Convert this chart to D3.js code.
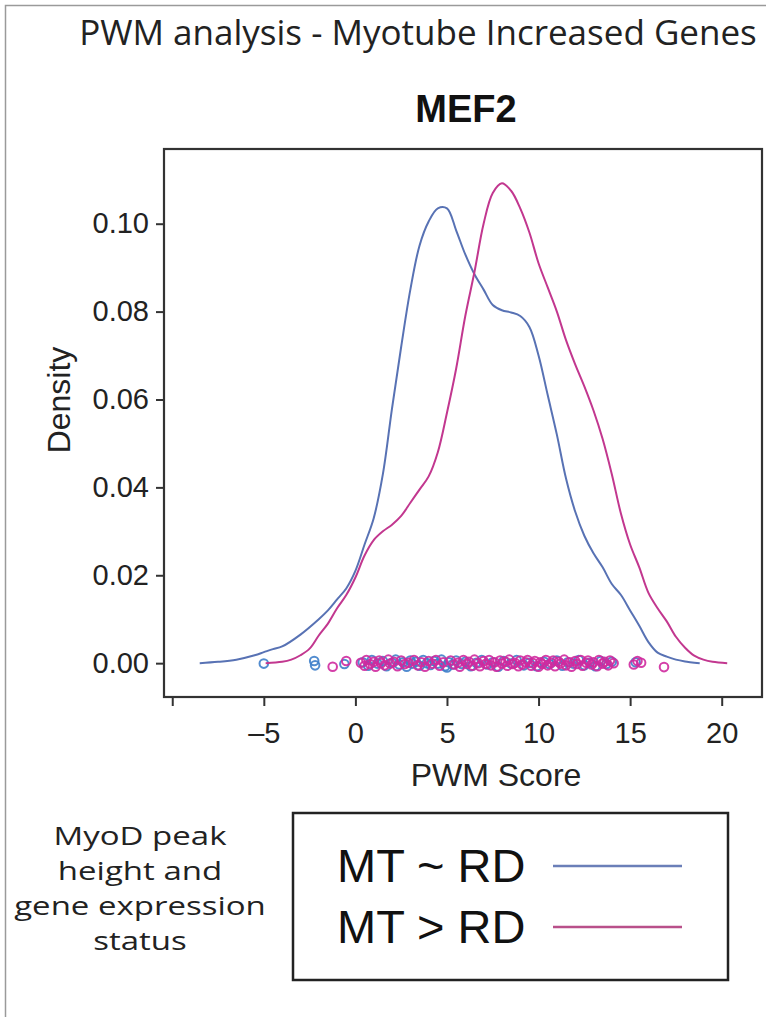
<!DOCTYPE html>
<html>
<head>
<meta charset="utf-8">
<script src="https://cdn.jsdelivr.net/npm/d3@7"></script>
<style>
  body { margin: 0; background: #fff; }
  svg { display: block; }
</style>
</head>
<body>
<svg id="chart" width="766" height="1017"></svg>
<script>
// density curves: [PWM score, density]
const mtSimilar = [
  [-8.5, 0], [-7.5, 0.0003], [-6.5, 0.0008], [-5.5, 0.0018], [-5.0, 0.0025], [-4.5, 0.0032],
  [-4.0, 0.0038], [-3.0, 0.0065], [-2.0, 0.010], [-1.5, 0.012], [-1.0, 0.0145], [-0.5, 0.017],
  [0.0, 0.021], [0.5, 0.027], [1.0, 0.033], [1.5, 0.043], [2.0, 0.058], [2.5, 0.072],
  [3.0, 0.085], [3.5, 0.095], [4.0, 0.1005], [4.5, 0.1035], [5.0, 0.1035], [5.5, 0.0985],
  [6.0, 0.093], [6.5, 0.0885], [7.0, 0.085], [7.5, 0.0815], [8.0, 0.0803], [8.5, 0.0798],
  [9.0, 0.079], [9.5, 0.0765], [10.0, 0.070], [10.5, 0.061], [11.0, 0.052], [11.5, 0.042],
  [12.0, 0.0345], [12.5, 0.029], [13.0, 0.025], [13.5, 0.0218], [14.0, 0.018], [14.5, 0.0155],
  [15.0, 0.012], [15.5, 0.0085], [16.0, 0.0048], [16.5, 0.0024], [17.0, 0.0015], [17.5, 0.0008],
  [18.0, 0.0004], [18.8, 0]
];
const mtGreater = [
  [-4.9, 0], [-4.0, 0.0003], [-3.5, 0.0008], [-3.0, 0.0018], [-2.5, 0.0033], [-2.0, 0.0063],
  [-1.5, 0.009], [-1.0, 0.0125], [-0.5, 0.0155], [0.0, 0.0195], [0.5, 0.0245], [1.0, 0.028],
  [1.5, 0.030], [2.0, 0.0315], [2.5, 0.0335], [3.0, 0.0365], [3.5, 0.0395], [4.0, 0.0425],
  [4.5, 0.048], [5.0, 0.057], [5.5, 0.067], [6.0, 0.079], [6.5, 0.089], [7.0, 0.100],
  [7.5, 0.107], [8.0, 0.1092], [8.5, 0.1075], [9.0, 0.1035], [9.5, 0.098], [10.0, 0.091],
  [10.5, 0.0855], [11.0, 0.080], [11.5, 0.0735], [12.0, 0.068], [12.5, 0.063], [13.0, 0.0575],
  [13.5, 0.051], [14.0, 0.043], [14.5, 0.034], [15.0, 0.027], [15.5, 0.0218], [16.0, 0.016],
  [16.5, 0.0125], [17.0, 0.0095], [17.5, 0.006], [18.0, 0.0035], [18.5, 0.0017], [19.0, 0.0008],
  [19.5, 0.0003], [20.3, 0]
];

// rug points along the baseline: [PWM score, small vertical jitter]
const rugSimilar = [
  [-5.0, -0.0001], [-2.25, 0.0005], [-2.2, -0.0005], [-0.6, -0.0002],
  [0.4, 0.0002], [0.7, -0.0006], [0.9, 0.0007], [1.2, -0.0001], [1.5, 0.0005], [1.7, -0.0007],
  [2.0, 0.0001], [2.2, 0.0008], [2.4, -0.0003], [2.6, 0.0002], [2.8, -0.0008], [3.0, 0.0006],
  [3.1, -0.0001], [3.3, 0.0003], [3.5, -0.0006], [3.7, 0.0007], [3.9, 0.0000], [4.1, -0.0004],
  [4.3, 0.0005], [4.5, -0.0001], [4.7, 0.0008], [4.9, -0.0007], [5.0, -0.0010], [5.1, 0.0002],
  [5.3, -0.0003], [5.5, 0.0006], [5.8, -0.0002], [6.0, 0.0003], [6.3, -0.0007], [6.6, 0.0001],
  [6.9, 0.0007], [7.2, -0.0003], [7.5, 0.0002], [7.8, -0.0008], [8.1, 0.0005], [8.5, -0.0001],
  [8.8, 0.0007], [9.2, -0.0005], [9.5, 0.0001], [9.9, -0.0007], [10.3, 0.0003], [10.6, -0.0002],
  [11.0, 0.0006], [11.3, -0.0006], [11.6, 0.0002], [11.9, -0.0001], [12.2, 0.0007], [12.5, -0.0005],
  [12.8, 0.0001], [13.1, -0.0007], [13.4, 0.0005], [13.7, -0.0002], [14.0, 0.0003], [15.3, 0.0002]
];
const rugGreater = [
  [-1.24, -0.0008], [-0.5, 0.0005],
  [0.3, 0.0001], [0.5, -0.0006], [0.6, 0.0007], [0.8, -0.0002], [1.0, 0.0003], [1.1, -0.0008],
  [1.3, 0.0006], [1.4, 0.0000], [1.6, -0.0005], [1.8, 0.0008], [1.9, -0.0001], [2.1, 0.0003],
  [2.3, -0.0007], [2.5, 0.0006], [2.7, -0.0002], [2.9, 0.0001], [3.2, 0.0007], [3.4, -0.0005],
  [3.6, 0.0002], [3.8, -0.0008], [4.0, 0.0005], [4.2, -0.0001], [4.4, 0.0007], [4.6, -0.0006],
  [4.8, 0.0002], [5.2, 0.0006], [5.4, -0.0003], [5.6, 0.0001], [5.7, -0.0008], [5.9, 0.0007],
  [6.1, -0.0002], [6.2, 0.0003], [6.4, -0.0006], [6.5, 0.0008], [6.7, 0.0000], [6.8, -0.0007],
  [7.0, 0.0005], [7.1, -0.0002], [7.3, 0.0007], [7.4, -0.0005], [7.6, 0.0002], [7.7, -0.0008],
  [7.9, 0.0006], [8.0, -0.0001], [8.2, 0.0003], [8.3, -0.0006], [8.4, 0.0008], [8.6, -0.0002],
  [8.7, 0.0001], [8.9, -0.0007], [9.0, 0.0006], [9.1, -0.0003], [9.3, 0.0002], [9.4, 0.0007],
  [9.6, -0.0006], [9.7, 0.0000], [9.8, 0.0005], [10.0, -0.0008], [10.1, 0.0002], [10.2, -0.0002],
  [10.4, 0.0007], [10.5, -0.0005], [10.7, 0.0001], [10.8, 0.0006], [10.9, -0.0007], [11.1, 0.0003],
  [11.2, -0.0001], [11.4, 0.0008], [11.5, -0.0005], [11.7, 0.0002], [11.8, -0.0008], [12.0, 0.0005],
  [12.1, -0.0002], [12.3, 0.0007], [12.4, -0.0006], [12.6, 0.0001], [12.7, 0.0006], [12.9, -0.0003],
  [13.0, 0.0002], [13.2, -0.0007], [13.3, 0.0007], [13.5, -0.0001], [13.6, 0.0003], [13.8, -0.0005],
  [13.9, 0.0006], [14.1, 0.0000], [15.2, -0.0003], [15.4, 0.0005], [15.6, 0.0001], [16.85, -0.0009]
];

const xTicks = [-10, -5, 0, 5, 10, 15, 20];
const yTicks = [0, 0.02, 0.04, 0.06, 0.08, 0.10];
const legendLabels = ['MT ~ RD', 'MT > RD'];
const legendTitle = ['MyoD peak', 'height and', 'gene expression', 'status'];

const svg = d3.select('#chart');
const box = { left: 164, right: 762, top: 149, bottom: 697 };
const helv = '"Liberation Sans", Arial, sans-serif';

// outer frame of the figure
svg.append('path').attr('d', 'M5.5,1017 V5.5 H766').attr('fill', 'none').attr('stroke', '#9a9a9a').attr('stroke-width', 1.5);

const x = d3.scaleLinear().domain([-10.45, 22.2]).range([box.left, box.right]);
const y = d3.scaleLinear().domain([-0.0077, 0.117]).range([box.bottom, box.top]);

svg.append('text')
  .attr('x', 418).attr('y', 45)
  .attr('text-anchor', 'middle')
  .style('font-family', '"Open Sans", sans-serif')
  .style('font-size', '35px')
  .attr('fill', '#222')
  .text('PWM analysis - Myotube Increased Genes');

svg.append('text')
  .attr('x', 466).attr('y', 122)
  .attr('text-anchor', 'middle')
  .style('font-family', helv)
  .style('font-size', '38px')
  .style('font-weight', 'bold')
  .attr('fill', '#111')
  .text('MEF2');

// axes
const xAxis = svg.append('g')
  .attr('transform', `translate(0, ${box.bottom})`)
  .call(d3.axisBottom(x).tickValues(xTicks).tickSizeOuter(0).tickSize(9).tickPadding(16)
    .tickFormat(d => d === -10 ? '' : (d < 0 ? '\u2013' + Math.abs(d) : d)));
const yAxis = svg.append('g')
  .attr('transform', `translate(${box.left}, 0)`)
  .call(d3.axisLeft(y).tickValues(yTicks).tickSizeOuter(0).tickSize(8).tickPadding(7)
    .tickFormat(d3.format('.2f')));
[xAxis, yAxis].forEach(g => {
  g.select('.domain').remove();
  g.selectAll('line').attr('stroke', '#333').attr('stroke-width', 2);
  g.selectAll('text')
    .style('font-family', helv)
    .style('font-size', '29px')
    .attr('fill', '#222');
});

svg.append('text')
  .attr('transform', 'translate(70, 400) rotate(-90)')
  .attr('text-anchor', 'middle')
  .style('font-family', helv)
  .style('font-size', '32px')
  .attr('fill', '#222')
  .text('Density');

svg.append('text')
  .attr('x', 496).attr('y', 786)
  .attr('text-anchor', 'middle')
  .style('font-family', helv)
  .style('font-size', '32px')
  .attr('fill', '#222')
  .text('PWM Score');

// rug of individual scores
const rugs = [
  { pts: rugSimilar, color: '#3f7fca' },
  { pts: rugGreater, color: '#cf2a9e' }
];
rugs.forEach(r => {
  svg.append('g')
    .selectAll('circle')
    .data(r.pts)
    .join('circle')
    .attr('cx', d => x(d[0]))
    .attr('cy', d => y(d[1]))
    .attr('r', 4.3)
    .attr('fill', 'none')
    .attr('stroke', r.color)
    .attr('stroke-width', 2)
    .attr('opacity', 0.9);
});

// density lines
const line = d3.line().x(d => x(d[0])).y(d => y(d[1])).curve(d3.curveCatmullRom);
svg.append('path').datum(mtSimilar).attr('d', line)
  .attr('fill', 'none').attr('stroke', '#5872b4').attr('stroke-width', 2);
svg.append('path').datum(mtGreater).attr('d', line)
  .attr('fill', 'none').attr('stroke', '#c2378f').attr('stroke-width', 2);

// plot frame
svg.append('rect')
  .attr('x', box.left).attr('y', box.top)
  .attr('width', box.right - box.left).attr('height', box.bottom - box.top)
  .attr('fill', 'none').attr('stroke', '#333').attr('stroke-width', 2.2);

// legend
svg.append('g')
  .attr('transform', 'translate(140, 0) scale(1.32, 1)')
  .selectAll('text')
  .data(legendTitle)
  .join('text')
  .attr('x', 0)
  .attr('y', (d, i) => 845 + i * 35)
  .attr('text-anchor', 'middle')
  .style('font-family', '"Open Sans", sans-serif')
  .style('font-size', '25px')
  .attr('fill', '#222')
  .text(d => d);

svg.append('rect')
  .attr('x', 293).attr('y', 813).attr('width', 435).attr('height', 167)
  .attr('fill', 'none').attr('stroke', '#222').attr('stroke-width', 2.5);

const legendColors = ['#6b7fb8', '#b9508a'];
const legendRows = svg.append('g').selectAll('g')
  .data(legendLabels)
  .join('g')
  .attr('transform', (d, i) => `translate(0, ${866 + i * 61})`);
legendRows.append('text')
  .attr('x', 337).attr('y', 16)
  .style('font-family', helv)
  .style('font-size', '47px')
  .attr('fill', '#111')
  .text(d => d);
legendRows.append('line')
  .attr('x1', 553).attr('x2', 682)
  .attr('stroke', (d, i) => legendColors[i])
  .attr('stroke-width', 2.5);
</script>
</body>
</html>
